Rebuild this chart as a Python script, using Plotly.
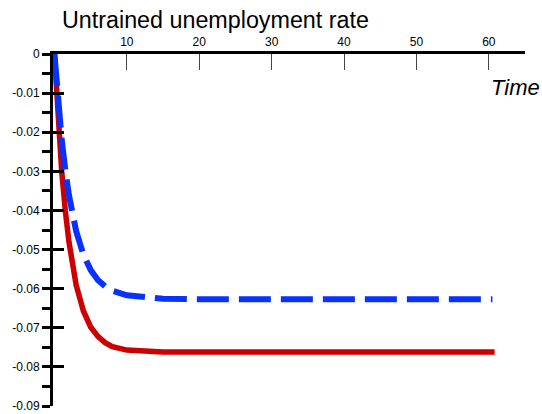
import plotly.graph_objects as go

# Data
t_red = [0, 0.5, 1, 1.5, 2, 3, 4, 5, 6, 7, 8, 10, 12, 15, 20, 30, 40, 50, 60.8]
u_red = [0, -0.0168, -0.0299, -0.0401, -0.0480, -0.0591, -0.0657, -0.0698, -0.0722,
         -0.0738, -0.0748, -0.0757, -0.0760, -0.0762, -0.0762, -0.0762, -0.0762, -0.0762, -0.0762]

t_blue = [0, 0.5, 1, 1.5, 2, 3, 4, 5, 6, 7, 8, 10, 12, 15, 20, 30, 40, 50, 60.5]
u_blue = [0, -0.0121, -0.0219, -0.0297, -0.0361, -0.0453, -0.0513, -0.0552, -0.0578,
          -0.0594, -0.0605, -0.0617, -0.0622, -0.0626, -0.0627, -0.0627, -0.0627, -0.0627, -0.0627]

x_ticks = [10, 20, 30, 40, 50, 60]
y_ticks = [0, -0.01, -0.02, -0.03, -0.04, -0.05, -0.06, -0.07, -0.08, -0.09]
y_labels = ["0", "-0.01", "-0.02", "-0.03", "-0.04", "-0.05", "-0.06", "-0.07", "-0.08", "-0.09"]

W, H = 542, 414

fig = go.Figure()
fig.add_trace(go.Scatter(x=t_red, y=u_red, mode="lines",
                         line=dict(color="#CC0000", width=5.5), showlegend=False))
fig.add_trace(go.Scatter(x=t_blue, y=u_blue, mode="lines",
                         line=dict(color="#0A32FF", width=6, dash="32px,10px"), showlegend=False))
# invisible trace to activate the second y axis (inside ticks)
fig.add_trace(go.Scatter(x=[None], y=[None], yaxis="y2", showlegend=False, hoverinfo="skip"))

fig.update_layout(
    width=W, height=H,
    margin=dict(l=53, r=17, t=54, b=8),
    paper_bgcolor="white", plot_bgcolor="white",
    font=dict(family="Liberation Sans, Arial, sans-serif", color="black"),
    title=dict(text="Untrained unemployment rate", xref="container", x=62/W, xanchor="left",
               yref="container", y=1-20/H, yanchor="middle",
               font=dict(size=23.3, color="black")),
    xaxis=dict(range=[-0.2, 65], side="top", tickvals=x_ticks, ticks="inside", ticklen=16,
               tickwidth=1, tickcolor="#444", showline=True, linewidth=3, linecolor="black",
               showgrid=False, zeroline=False, tickfont=dict(size=12), automargin=False),
    yaxis=dict(range=[-0.09, 0], tickvals=y_ticks, ticktext=y_labels, ticks="outside",
               ticklen=8, tickwidth=3, tickcolor="black", showline=True, linewidth=3,
               linecolor="black", showgrid=False, zeroline=False, tickfont=dict(size=12),
               automargin=False, ticklabelstandoff=0,
               minor=dict(dtick=0.005, tick0=0, ticks="outside", ticklen=8, tickwidth=3,
                          tickcolor="black", showgrid=False)),
    yaxis2=dict(range=[-0.09, 0], overlaying="y", side="left", anchor="x", tickvals=y_ticks,
                ticks="inside", ticklen=11, tickwidth=3, tickcolor="black", showticklabels=False,
                showline=False, showgrid=False, zeroline=False, automargin=False),
    annotations=[dict(text="<i>Time</i>", xref="paper", yref="paper", x=1.037, y=0.906,
                      xanchor="right", yanchor="middle", showarrow=False,
                      font=dict(size=22, color="black"))],
)

fig.write_html("out.html", config={"displayModeBar": False},
               post_script="document.body.style.margin='0';document.body.style.overflow='hidden';")
